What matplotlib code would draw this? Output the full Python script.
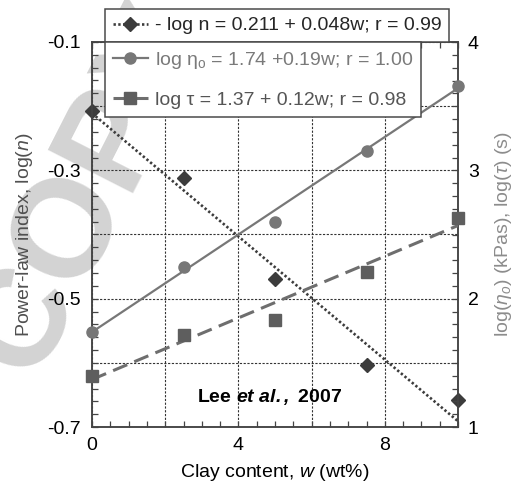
import numpy as np
import matplotlib
matplotlib.use("Agg")
import matplotlib.pyplot as plt
from matplotlib.ticker import MultipleLocator, FuncFormatter

plt.rcParams["font.family"] = ["Liberation Sans", "DejaVu Sans"]
plt.rcParams["mathtext.fontset"] = "custom"
plt.rcParams["mathtext.rm"] = "Liberation Sans"
plt.rcParams["mathtext.it"] = "Liberation Sans:italic"
plt.rcParams["mathtext.bf"] = "Liberation Sans:bold"
plt.rcParams["mathtext.bfit"] = "Liberation Sans:italic:bold"

# Clay content (wt%)
clay_w = [0, 2.5, 5, 7.5, 10]
# Power-law index, log(n)
log_n = [-0.208, -0.312, -0.469, -0.603, -0.658]
# Zero-shear viscosity, log(eta_o) (kPas)
log_eta = [1.74, 2.25, 2.60, 3.15, 3.66]
# Relaxation time, log(tau) (s)
log_tau = [1.40, 1.72, 1.83, 2.21, 2.63]

# Linear fits: value = intercept + slope * w
fit_n = (0.211, 0.048)     # -log n
fit_eta = (1.74, 0.19)
fit_tau = (1.37, 0.12)

labels = [
    "- log n = 0.211 + 0.048w; r = 0.99",
    r"log η$_{\mathregular{o}}$ = 1.74 +0.19w; r = 1.00",
    "log τ = 1.37 + 0.12w; r = 0.98",
]

c_n, c_eta, c_tau = "#3c3c3c", "#777777", "#5e5e5e"
fs = 14

fig = plt.figure(figsize=(5.2, 4.86), dpi=100)

ax = fig.add_axes([92 / 520, 59 / 486, 366 / 520, 385 / 486])
ax.set_xlim(0, 10)
ax.set_ylim(-0.7, -0.1)
ax2 = ax.twinx()
ax2.set_ylim(1, 4)

# watermark, behind the data and grid
ax.text(90 / 520, 1 - 190 / 486, "COPY", transform=fig.transFigure, rotation=63,
        ha="center", va="center", fontsize=100, fontweight="bold",
        color="#d3d3d3", zorder=0.1, clip_on=False)

wf = np.linspace(0, 10, 50)

ln_fit, = ax.plot(wf, -(fit_n[0] + fit_n[1] * wf), color=c_n, lw=1.9,
                  linestyle=(0, (0.9, 0.9)), zorder=3)
ln_pts, = ax.plot(clay_w, log_n, linestyle="none", marker="D", ms=7,
                  color=c_n, mec=c_n, zorder=4, clip_on=False)

eta_fit, = ax2.plot(wf, fit_eta[0] + fit_eta[1] * wf, color=c_eta, lw=1.6, zorder=3)
eta_pts, = ax2.plot(clay_w, log_eta, linestyle="none", marker="o", ms=8,
                    color=c_eta, mec=c_eta, zorder=4, clip_on=False)

tau_fit, = ax2.plot(wf, fit_tau[0] + fit_tau[1] * wf, color="#6e6e6e", lw=2.2,
                    linestyle=(0, (5, 2.5)), zorder=3)
tau_pts, = ax2.plot(clay_w, log_tau, linestyle="none", marker="s", ms=8.5,
                    color=c_tau, mec=c_tau, zorder=4, clip_on=False)

# ticks and grid
ax.xaxis.set_major_locator(MultipleLocator(2))
ax.xaxis.set_minor_locator(MultipleLocator(0.5))
ax.xaxis.set_major_formatter(FuncFormatter(
    lambda v, p: f"{v:.0f}" if round(v) % 4 == 0 and round(v) < 10 else ""))
ax.yaxis.set_major_locator(MultipleLocator(0.1))
ax.yaxis.set_minor_locator(MultipleLocator(0.02))
ax.yaxis.set_major_formatter(FuncFormatter(
    lambda v, p: f"{v:.1f}" if round(v * 10) % 2 != 0 else ""))
ax2.yaxis.set_major_locator(MultipleLocator(1))
ax2.yaxis.set_minor_locator(MultipleLocator(0.1))

ax.tick_params(which="both", direction="in", top=True, right=False,
               length=4, width=0.9, color="#444444", labelsize=fs)
ax.tick_params(axis="y", pad=8)
ax.tick_params(axis="x", pad=7)
ax2.tick_params(which="both", direction="in", length=4, width=0.9,
                color="#444444", labelsize=fs, pad=7)

ax.grid(which="major", color="#333333", linestyle=(0, (2, 1.4)), lw=0.8, zorder=0.5)
ax.set_axisbelow(True)

for a in (ax, ax2):
    for s in a.spines.values():
        s.set_color("#444444")
        s.set_linewidth(1.1)

ax.set_xlabel("Clay content, $w$ (wt%)", fontsize=fs, labelpad=6)
ax.set_ylabel("Power-law index, log($n$)", fontsize=fs, color="#505050", labelpad=9)
ax2.set_ylabel(r"log($\eta_o$) (kPas), log($\tau$) (s)", fontsize=fs,
               color="#8c8c8c", labelpad=10)

ax.text(0.486, 0.078, r"$\mathbf{Lee}\ \mathbfit{et\ al.,}\ \mathbf{2007}$",
        transform=ax.transAxes, ha="center", va="center", fontsize=fs)

leg_kw = dict(frameon=True, fancybox=False, framealpha=1, edgecolor="#4a4a4a",
              fontsize=fs, handlelength=1.8, handletextpad=0.35, borderpad=0.4,
              borderaxespad=0, numpoints=1, bbox_transform=fig.transFigure,
              loc="upper left")

leg1 = ax2.legend([(ln_fit, ln_pts)], [labels[0]],
                  bbox_to_anchor=(105 / 520, 1 - 9 / 486), **leg_kw)
leg1.get_frame().set_linewidth(1.1)
leg1.get_texts()[0].set_color("#262626")
ax2.add_artist(leg1)

leg2 = ax2.legend([(eta_fit, eta_pts), (tau_fit, tau_pts)], labels[1:],
                  bbox_to_anchor=(105 / 520, 1 - 42 / 486), labelspacing=1.05, **leg_kw)
leg2.get_frame().set_linewidth(1.1)
leg2.get_texts()[0].set_color("#7a7a7a")
leg2.get_texts()[1].set_color("#555555")

fig.savefig("out.png", dpi=100)
